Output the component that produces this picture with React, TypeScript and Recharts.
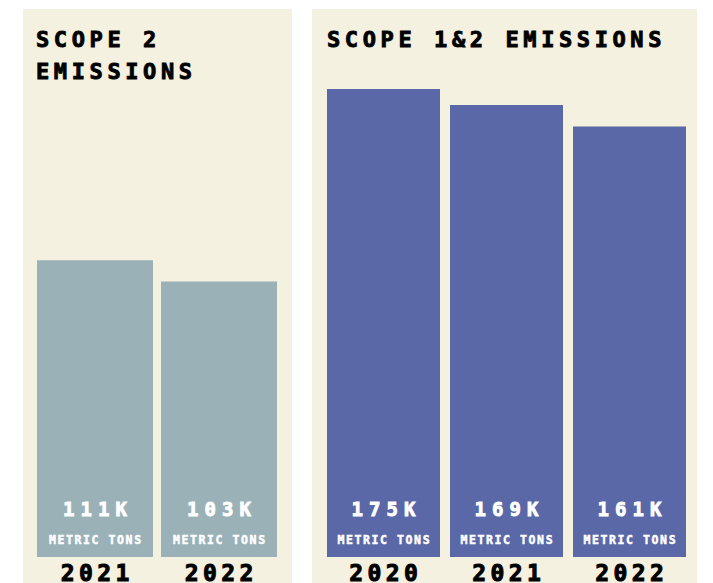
import { BarChart, Bar, XAxis, YAxis, LabelList } from "recharts";

// values in thousands of metric tons
const scope2Years = ["2021", "2022"];
const scope2Values = [111, 103];

const scope12Years = ["2020", "2021", "2022"];
const scope12Values = [175, 169, 161];

const unitLabel = "METRIC TONS";
const maxValue = 175;

const FONT = "'DejaVu Sans Mono', 'Liberation Mono', monospace";
const PANEL_BG = "#f5f1e0";

function BarLabel(props: any) {
  const { x, y, width, height, value } = props;
  const cx = Number(x) + Number(width) / 2;
  const bottom = Number(y) + Number(height);
  return (
    <g>
      <text
        x={cx + 3}
        y={bottom - 41}
        textAnchor="middle"
        fill="#ffffff"
        stroke="#ffffff"
        strokeWidth={0.9}
        fontFamily={FONT}
        fontWeight={700}
        fontSize={19}
        letterSpacing={6}
      >
        {`${value}K`}
      </text>
      <text
        x={cx + 0.8}
        y={bottom - 13}
        textAnchor="middle"
        fill="#ffffff"
        stroke="#ffffff"
        strokeWidth={0.5}
        fontFamily={FONT}
        fontWeight={700}
        fontSize={11.5}
        letterSpacing={1.6}
      >
        {unitLabel}
      </text>
    </g>
  );
}

function YearTick(props: any) {
  const { x, y, payload } = props;
  return (
    <text
      x={Number(x) + 2.2}
      y={Number(y) + 24}
      textAnchor="middle"
      fill="#000000"
      stroke="#000000"
      strokeWidth={1}
      fontFamily={FONT}
      fontWeight={700}
      fontSize={23}
      letterSpacing={4.4}
    >
      {payload.value}
    </text>
  );
}

function EmissionsPanel({
  left,
  width,
  titleLeft,
  titleLines,
  years,
  values,
  color,
  barSize,
  margin,
}: {
  left: number;
  width: number;
  titleLeft: number;
  titleLines: string[];
  years: string[];
  values: number[];
  color: string;
  barSize: number;
  margin: { top: number; right: number; bottom: number; left: number };
}) {
  const data = years.map((year, i) => ({ year, value: values[i] }));
  return (
    <div
      style={{
        position: "absolute",
        left,
        top: 9,
        width,
        height: 600,
        background: PANEL_BG,
      }}
    >
      <div
        style={{
          position: "absolute",
          left: titleLeft,
          top: 15,
          fontFamily: FONT,
          fontWeight: 700,
          fontSize: 22,
          lineHeight: "32px",
          letterSpacing: 4.6,
          color: "#000",
          WebkitTextStroke: "0.9px #000",
          whiteSpace: "nowrap",
        }}
      >
        {titleLines.map((t) => (
          <div key={t}>{t}</div>
        ))}
      </div>
      <div style={{ position: "absolute", left: 0, top: 0 }}>
        <BarChart width={width} height={578} data={data} margin={margin}>
          <XAxis
            dataKey="year"
            axisLine={false}
            tickLine={false}
            tickSize={0}
            tickMargin={0}
            height={30}
            interval={0}
            tick={<YearTick />}
          />
          <YAxis hide domain={[0, maxValue]} />
          <Bar
            dataKey="value"
            fill={color}
            barSize={barSize}
            isAnimationActive={false}
          >
            <LabelList dataKey="value" content={<BarLabel />} />
          </Bar>
        </BarChart>
      </div>
    </div>
  );
}

export default function App() {
  return (
    <div
      style={{
        position: "absolute",
        left: 0,
        top: 0,
        width: 713,
        height: 583,
        overflow: "hidden",
        background: "#ffffff",
      }}
    >
      <EmissionsPanel
        left={23}
        width={269}
        titleLeft={13}
        titleLines={["SCOPE 2", "EMISSIONS"]}
        years={scope2Years}
        values={scope2Values}
        color="#9ab1b8"
        barSize={116}
        margin={{ top: 80, right: 11, bottom: 0, left: 10 }}
      />
      <EmissionsPanel
        left={312}
        width={385}
        titleLeft={15}
        titleLines={["SCOPE 1&2 EMISSIONS"]}
        years={scope12Years}
        values={scope12Values}
        color="#5a68a8"
        barSize={113}
        margin={{ top: 80, right: 6, bottom: 0, left: 10 }}
      />
    </div>
  );
}
